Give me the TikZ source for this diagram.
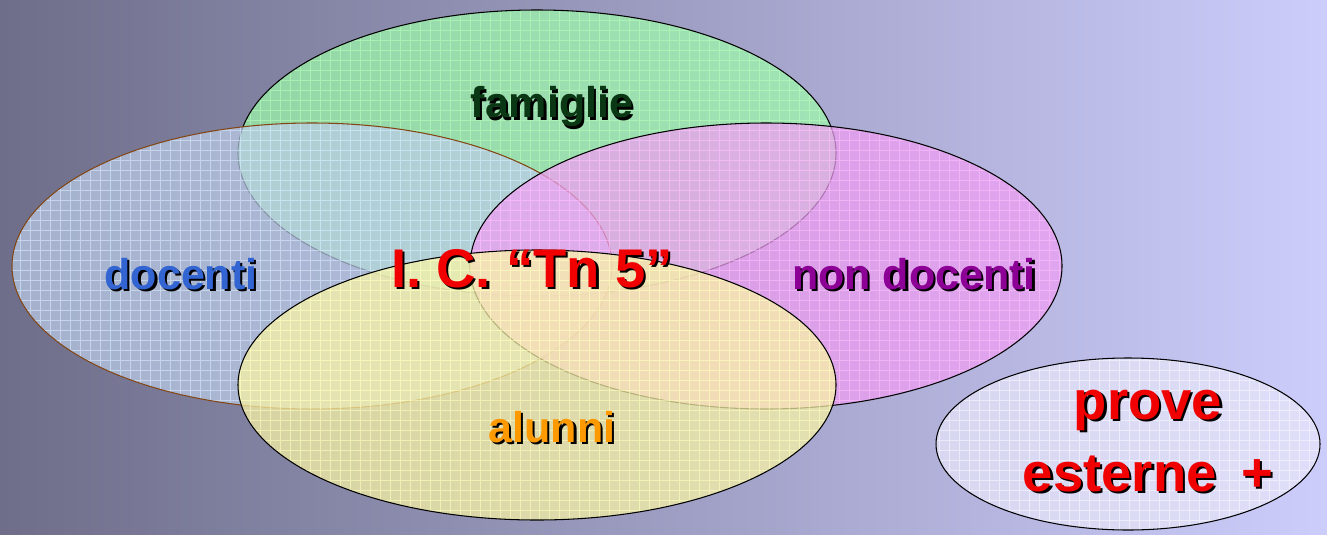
\documentclass[tikz,border=0pt]{standalone}
\usepackage{fontspec}
\setmainfont{Liberation Sans}
\usepackage{xcolor}
\usepackage{tikz}
\usetikzlibrary{positioning}
\definecolor{bgleft}{RGB}{110,110,138}
\definecolor{bgright}{RGB}{205,205,252}
\definecolor{famfill}{RGB}{157,250,171}
\definecolor{famgrid}{RGB}{185,255,185}
\definecolor{docfill}{RGB}{187,204,231}
\definecolor{docgrid}{RGB}{215,235,255}
\definecolor{nonfill}{RGB}{240,158,243}
\definecolor{nongrid}{RGB}{255,190,255}
\definecolor{alufill}{RGB}{250,245,165}
\definecolor{alugrid}{RGB}{255,255,190}
\definecolor{provefill}{RGB}{230,230,250}
\definecolor{provegrid}{RGB}{248,248,255}
\definecolor{docline}{RGB}{130,70,20}
\definecolor{famtext}{RGB}{10,55,20}
\definecolor{doctext}{RGB}{50,100,210}
\definecolor{nontext}{RGB}{140,0,150}
\definecolor{alutext}{RGB}{255,153,0}
\definecolor{ictext}{RGB}{240,0,0}
\newcommand{\shtxt}[2]{\makebox[0pt][l]{\hspace{1.3pt}\raisebox{-1.3pt}{\color{black}#2}}\textcolor{#1}{#2}}
\tikzset{
  setlabel/.style={inner sep=0pt, align=center,
    font=\fontsize{24.5}{29}\selectfont\bfseries},
  biglabel/.style={inner sep=0pt, align=center,
    font=\fontsize{31}{41}\selectfont\bfseries},
  setgrid/.style={line width=0.45pt, opacity=0.6, step=0.2cm},
  setline/.style={line width=0.6pt}
}
\begin{document}
\begin{tikzpicture}[x=0.02cm, y=-0.02cm]
  \fill[left color=bgleft, right color=bgright] (0,0) rectangle (1327,534);

  % the four sets
  \foreach \cx/\cy/\rx/\ry/\fc/\gc/\lc in {
      537/153/299/143/famfill/famgrid/black,
      312/266/300/143/docfill/docgrid/docline,
      766/266/296/143/nonfill/nongrid/black,
      537/385/299/135/alufill/alugrid/black,
      1128/444/192/86/provefill/provegrid/black}{
    \fill[\fc, opacity=0.72] (\cx,\cy) ellipse [x radius=\rx, y radius=\ry];
    \begin{scope}
      \clip (\cx,\cy) ellipse [x radius=\rx, y radius=\ry];
      \draw[\gc, setgrid] (\cx-\rx,\cy-\ry) grid (\cx+\rx,\cy+\ry);
    \end{scope}
    \draw[\lc, setline] (\cx,\cy) ellipse [x radius=\rx, y radius=\ry];
  }

  \node[setlabel] (famiglie) at (552,108) {\shtxt{famtext}{famiglie}};
  \node[setlabel] (docenti) at (181,275) {\shtxt{doctext}{docenti}};
  \node[setlabel] (nondocenti) at (914,275) {\shtxt{nontext}{non docenti}};
  \node[setlabel] (alunni) at (552,428) {\shtxt{alutext}{alunni}};
  \node[biglabel] (istituto) at (532,270) {\shtxt{ictext}{I. C. “Tn 5”}};
  \node[biglabel] (prove) at (1148,442) {\shtxt{ictext}{prove}\\ \shtxt{ictext}{esterne\hspace{0.45em}+}};
\end{tikzpicture}
\end{document}
